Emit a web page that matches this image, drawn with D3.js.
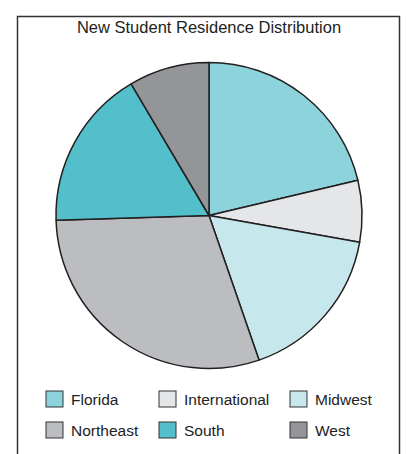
<!DOCTYPE html>
<html>
<head>
<meta charset="utf-8">
<script src="https://cdn.jsdelivr.net/npm/d3@7"></script>
<style>
    body { margin: 0; background: #fff; }
    svg { display: block; font-family: "Liberation Sans", Arial, sans-serif; }
</style>
</head>
<body>
<svg id="chart" width="406" height="454"></svg>
<script>
// Residence shares (percent), read clockwise from 12 o'clock
const categories = ['Florida', 'International', 'Midwest', 'Northeast', 'South', 'West'];
const shares = [21.3, 6.5, 16.9, 29.8, 17.0, 8.5];
const colors = ['#8dd3dc', '#e5e6e8', '#c6e8ec', '#bcbdc1', '#52bfca', '#939598'];

function drawChart() {
    const svg = d3.select('#chart');
    const cx = 209, cy = 215.5, radius = 153;

    // Outer frame (runs off the bottom of the picture)
    svg.append('rect')
        .attr('x', 17.5)
        .attr('y', 16.5)
        .attr('width', 382)
        .attr('height', 460)
        .attr('fill', 'none')
        .attr('stroke', '#333')
        .attr('stroke-width', 1.5);

    // Title
    svg.append('text')
        .attr('x', 209)
        .attr('y', 33)
        .attr('text-anchor', 'middle')
        .attr('font-size', 16.5)
        .attr('fill', '#222')
        .text('New Student Residence Distribution');

    const data = categories.map((c, i) => ({ name: c, value: shares[i], color: colors[i] }));

    const pie = d3.pie()
        .sort(null)
        .value(d => d.value);

    const arc = d3.arc()
        .innerRadius(0)
        .outerRadius(radius);

    const g = svg.append('g')
        .attr('transform', `translate(${cx},${cy})`);

    g.selectAll('path')
        .data(pie(data))
        .enter().append('path')
        .attr('d', arc)
        .attr('fill', d => d.data.color)
        .attr('stroke', '#231f20')
        .attr('stroke-width', 1.5)
        .attr('stroke-linejoin', 'round');

    // Legend: 3 columns x 2 rows
    const colX = [46, 159, 290];
    const rowY = [391, 422];
    const legend = svg.append('g');

    data.forEach((d, i) => {
        const x = colX[i % 3];
        const y = rowY[Math.floor(i / 3)];
        legend.append('rect')
            .attr('x', x)
            .attr('y', y)
            .attr('width', 17)
            .attr('height', 16)
            .attr('fill', d.color)
            .attr('stroke', '#333')
            .attr('stroke-width', 1);
        legend.append('text')
            .attr('x', x + 25)
            .attr('y', y + 14)
            .attr('font-size', 15.5)
            .attr('fill', '#222')
            .text(d.name);
    });
}

drawChart();
</script>
</body>
</html>
